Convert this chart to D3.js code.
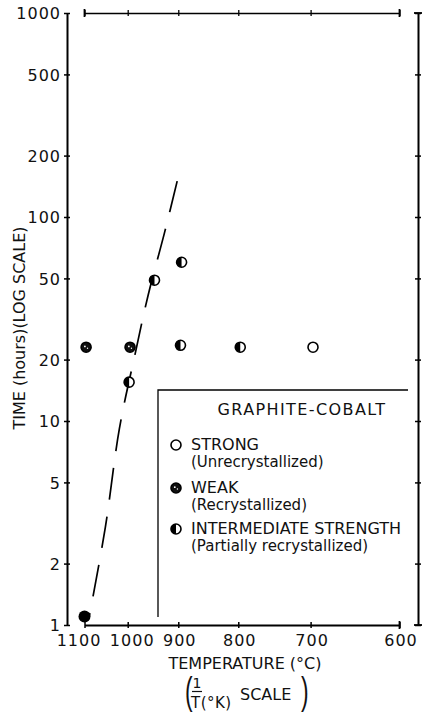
<!DOCTYPE html>
<html>
<head>
<meta charset="utf-8">
<script src="https://cdn.jsdelivr.net/npm/d3@7"></script>
<style>
  body { margin: 0; background: #fff; }
  text { font-family: "DejaVu Sans", sans-serif; fill: #111; }
</style>
</head>
<body>
<div id="chart"></div>
<script>
// tick labels
var tempTicks = [1100, 1000, 900, 800, 700, 600]   // deg C, placed on a 1/T(K) scale
var timeTicks = [1, 2, 5, 10, 20, 50, 100, 200, 500, 1000]   // hours, log scale

// STRONG (unrecrystallized)
var strongTemps = [697]
var strongTimes = [23]
// WEAK (recrystallized)
var weakTemps = [1096, 995]
var weakTimes = [23, 23]
// solid dot at the foot of the dashed line
var solidTemps = [1100]
var solidTimes = [1.1]
// INTERMEDIATE STRENGTH (partially recrystallized)
var interTemps = [997, 945, 896, 894, 797]
var interTimes = [15.5, 49, 23.5, 60, 23]
// dashed boundary
var curveTemps = [902, 925, 958, 983, 1018, 1050, 1089]
var curveTimes = [150, 85, 41, 22, 9.2, 3.0, 1.08]

var width = 425
var height = 716

var svg = d3
  .select("#chart")
  .append("svg")
  .attr("width", width)
  .attr("height", height)

var invT = function (c) {
  return 1 / (c + 273.15)
}

var x = d3.scaleLinear().domain([invT(1100), invT(600)]).range([84.5, 399.5])
var y = d3.scaleLog().domain([1, 1000]).range([625, 13])

// left axis (labelled)
var leftAxis = svg
  .append("g")
  .attr("transform", "translate(67,0)")
  .call(d3.axisLeft(y).tickValues(timeTicks).tickFormat(d3.format("d")).tickSize(3).tickSizeOuter(0).tickPadding(3))
leftAxis.attr("font-size", 16).attr("font-family", null)
leftAxis.selectAll(".tick line").attr("x1", 3).attr("stroke-width", 1.5)
leftAxis.selectAll(".tick text").attr("dy", "0.36em").style("letter-spacing", "1px")
leftAxis.select(".domain").attr("stroke-width", 2)

// bottom axis (labelled)
var bottomAxis = svg
  .append("g")
  .attr("transform", "translate(0," + y(1) + ")")
  .call(
    d3.axisBottom(x)
      .tickValues(tempTicks.map(invT))
      .tickFormat(function (d) { return Math.round(1 / d - 273.15) })
      .tickSize(3)
      .tickSizeOuter(0)
      .tickPadding(7)
  )
bottomAxis.attr("font-size", 16).attr("font-family", null)
bottomAxis.selectAll(".tick line").attr("y1", -3).attr("stroke-width", 1.5)
bottomAxis.selectAll(".tick text").style("letter-spacing", "1px")
  .attr("dx", function (d, i) { return i == 0 ? -6 : (i == 1 ? 4 : 1) })
bottomAxis.select(".domain").attr("stroke-width", 2)
bottomAxis.append("line")
  .attr("x1", x(invT(600))).attr("x2", x(invT(600)))
  .attr("y1", -4).attr("y2", 4)
  .attr("stroke", "#000").attr("stroke-width", 1.8)

// top frame line
var topAxis = svg
  .append("g")
  .attr("transform", "translate(0," + y(1000) + ")")
  .call(d3.axisTop(x).tickValues(tempTicks.map(invT)).tickFormat("").tickSize(3).tickSizeOuter(0))
topAxis.selectAll(".tick line").attr("y1", 3).attr("stroke-width", 1.3)
topAxis.select(".domain").attr("stroke-width", 1.6)
topAxis.selectAll(".cap")
  .data([invT(1100), invT(600)])
  .enter()
  .append("line")
  .attr("class", "cap")
  .attr("x1", function (d) { return x(d) }).attr("x2", function (d) { return x(d) })
  .attr("y1", -4).attr("y2", 4)
  .attr("stroke", "#000").attr("stroke-width", 1.8)

// right frame line
var rightAxis = svg
  .append("g")
  .attr("transform", "translate(418,0)")
  .call(d3.axisRight(y).tickValues(timeTicks).tickFormat("").tickSize(3).tickSizeOuter(0))
rightAxis.selectAll(".tick line").attr("x1", -3).attr("stroke-width", 1.5)
rightAxis.select(".domain").attr("stroke-width", 2)
rightAxis.selectAll(".cap")
  .data([1, 1000])
  .enter()
  .append("line")
  .attr("class", "cap")
  .attr("x1", -4).attr("x2", 4)
  .attr("y1", function (d) { return y(d) }).attr("y2", function (d) { return y(d) })
  .attr("stroke", "#000").attr("stroke-width", 1.8)

// axis titles
svg.append("text")
  .attr("transform", "translate(25,328) rotate(-90)")
  .attr("text-anchor", "middle")
  .style("font-size", "16px")
  .text("TIME (hours)(LOG SCALE)")

svg.append("text")
  .attr("x", 245).attr("y", 669)
  .attr("text-anchor", "middle")
  .style("font-size", "16px")
  .text("TEMPERATURE (°C)")

// ( 1/T(°K) SCALE )
svg.append("text")
  .attr("transform", "translate(185,704) scale(0.6,1)")
  .style("font-family", "Liberation Sans").style("font-size", "38px")
  .text("(")
svg.append("text")
  .attr("transform", "translate(301,704) scale(0.6,1)")
  .style("font-family", "Liberation Sans").style("font-size", "38px")
  .text(")")
svg.append("text")
  .attr("x", 197).attr("y", 688)
  .attr("text-anchor", "middle")
  .style("font-size", "14px")
  .text("1")
svg.append("line")
  .attr("x1", 192).attr("x2", 202).attr("y1", 691.5).attr("y2", 691.5)
  .attr("stroke", "#111").attr("stroke-width", 1.2)
svg.append("text")
  .attr("x", 191).attr("y", 708)
  .style("font-size", "15px").style("letter-spacing", "0.5px")
  .text("T(°K)")
svg.append("text")
  .attr("x", 240).attr("y", 700)
  .style("font-size", "16px")
  .text("SCALE")

// dashed boundary
var line = d3
  .line()
  .x(function (d) { return x(invT(d[0])) })
  .y(function (d) { return y(d[1]) })
  .curve(d3.curveCatmullRom)

svg.append("path")
  .datum(d3.zip(curveTemps, curveTimes))
  .attr("d", line)
  .attr("fill", "none")
  .attr("stroke", "#000")
  .attr("stroke-width", 1.7)
  .attr("stroke-dasharray", "32,17")

// markers
var r = 5
var halfArc = d3.arc().innerRadius(0).outerRadius(r).startAngle(Math.PI).endAngle(2 * Math.PI)

function drawMarker(g, kind, cx, cy) {
  var m = g.append("g").attr("transform", "translate(" + cx + "," + cy + ")")
  if (kind == "solid") {
    m.append("circle").attr("r", r + 1).attr("fill", "#000")
    return
  }
  m.append("circle")
    .attr("r", r)
    .attr("fill", kind == "weak" ? "#111" : "#fff")
    .attr("stroke", "#000")
    .attr("stroke-width", 1.6)
  if (kind == "weak") {
    m.append("circle").attr("cx", -1.2).attr("cy", -0.8).attr("r", 0.9).attr("fill", "#fff")
    m.append("circle").attr("cx", 1.4).attr("cy", 1).attr("r", 0.7).attr("fill", "#fff")
  }
  if (kind == "inter") {
    m.append("path").attr("d", halfArc()).attr("fill", "#000")
  }
}

var dots = svg.append("g")
d3.zip(strongTemps, strongTimes).forEach(function (d) { drawMarker(dots, "strong", x(invT(d[0])), y(d[1])) })
d3.zip(weakTemps, weakTimes).forEach(function (d) { drawMarker(dots, "weak", x(invT(d[0])), y(d[1])) })
d3.zip(interTemps, interTimes).forEach(function (d) { drawMarker(dots, "inter", x(invT(d[0])), y(d[1])) })
d3.zip(solidTemps, solidTimes).forEach(function (d) { drawMarker(dots, "solid", x(invT(d[0])), y(d[1])) })

// legend box (top and left sides only)
var legend = svg.append("g")
legend.append("path")
  .attr("d", "M158,617V390H408")
  .attr("fill", "none")
  .attr("stroke", "#000")
  .attr("stroke-width", 1.3)

legend.append("text")
  .attr("x", 302).attr("y", 415)
  .attr("text-anchor", "middle")
  .style("font-size", "16px").style("letter-spacing", "1.4px")
  .text("GRAPHITE-COBALT")

var legendRows = [
  { kind: "strong", y: 445, label: "STRONG", sub: "(Unrecrystallized)" },
  { kind: "weak", y: 488, label: "WEAK", sub: "(Recrystallized)" },
  { kind: "inter", y: 529, label: "INTERMEDIATE STRENGTH", sub: "(Partially recrystallized)" }
]

legendRows.forEach(function (row) {
  drawMarker(legend, row.kind, 176, row.y)
  legend.append("text")
    .attr("x", 191).attr("y", row.y + 5)
    .style("font-size", "16px")
    .text(row.label)
  legend.append("text")
    .attr("x", 191).attr("y", row.y + 21.5)
    .style("font-size", "15px")
    .text(row.sub)
})
</script>
</body>
</html>
